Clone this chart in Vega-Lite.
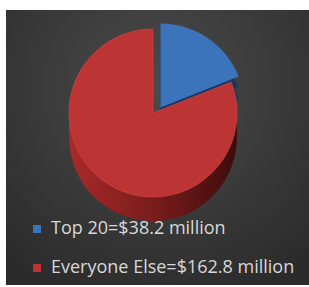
{
  "$schema": "https://vega.github.io/schema/vega-lite/v6.json",
  "width": 309,
  "height": 287,
  "autosize": {"type": "fit", "contains": "padding"},
  "padding": {"left": 6, "top": 10, "right": 0, "bottom": 2},
  "background": "white",
  "config": {"view": {"stroke": null}},
  "data": {"values": [
    {"label": "Top 20=$38.2 million", "value": 38.2, "order": 1},
    {"label": "Everyone Else=$162.8 million", "value": 162.8, "order": 2}
  ]},
  "transform": [
    {"stack": "value", "groupby": [], "as": ["t0", "t1"], "sort": [{"field": "order", "order": "ascending"}]}
  ],
  "layer": [
    {
      "transform": [{"filter": "datum.order == 1"}],
      "mark": {"type": "rect",
        "fill": {"gradient": "radial", "x1": 0.5, "y1": 0.3, "r1": 0, "x2": 0.5, "y2": 0.3, "r2": 0.75,
          "stops": [{"offset": 0, "color": "#4b4b4b"}, {"offset": 1, "color": "#2b2b2b"}]}},
      "encoding": {}
    },
    {
      "transform": [{"filter": "datum.order == 2"}],
      "mark": {"type": "arc", "radius": 84, "xOffset": -4.5, "yOffset": -10.5,
        "fill": {"gradient": "linear", "x1": 0, "y1": 0, "x2": 1, "y2": 0, "stops": [{"offset": 0, "color": "#a82a2a"}, {"offset": 0.5, "color": "#7a1c1c"}, {"offset": 1, "color": "#3e0c0c"}]}},
      "encoding": {
        "theta": {"field": "t0", "type": "quantitative", "scale": {"domain": [0, 201]}},
        "theta2": {"field": "t1"}
      }
    },
    {
      "transform": [{"filter": "datum.order == 2"}],
      "mark": {"type": "arc", "radius": 84, "xOffset": -4.5, "yOffset": -22.5,
        "fill": {"gradient": "linear", "x1": 0, "y1": 0, "x2": 1, "y2": 0, "stops": [{"offset": 0, "color": "#a82a2a"}, {"offset": 0.5, "color": "#7a1c1c"}, {"offset": 1, "color": "#3e0c0c"}]}},
      "encoding": {
        "theta": {"field": "t0", "type": "quantitative", "scale": {"domain": [0, 201]}},
        "theta2": {"field": "t1"}
      }
    },
    {
      "transform": [{"filter": "datum.order == 1"}],
      "mark": {"type": "arc", "radius": 84, "xOffset": 3, "yOffset": -18, "fill": "#1b3761"},
      "encoding": {
        "theta": {"field": "t0", "type": "quantitative", "scale": {"domain": [0, 201]}},
        "theta2": {"field": "t1"}
      }
    },
    {
      "transform": [{"filter": "datum.order == 1"}],
      "mark": {"type": "arc", "radius": 84, "xOffset": 3, "yOffset": -29, "fill": "#1b3761"},
      "encoding": {
        "theta": {"field": "t0", "type": "quantitative", "scale": {"domain": [0, 201]}},
        "theta2": {"field": "t1"}
      }
    },
    {
      "transform": [{"filter": "datum.order == 2"}],
      "mark": {"type": "arc", "radius": 84, "xOffset": -4.5, "yOffset": -34.5, "stroke": "#c94242", "strokeWidth": 0.8},
      "encoding": {
        "theta": {"field": "t0", "type": "quantitative", "scale": {"domain": [0, 201]}},
        "theta2": {"field": "t1"},
        "color": {"field": "label", "type": "nominal",
          "scale": {"domain": ["Top 20=$38.2 million", "Everyone Else=$162.8 million"], "range": ["#3b74bb", "#bd3434"]},
          "legend": {"title": null, "orient": "none", "legendX": 22, "legendY": 210,
            "symbolType": "square", "symbolSize": 64, "symbolStrokeWidth": 0,
            "labelFont": "Open Sans", "labelFontSize": 18, "labelColor": "#d8d8d8", "labelLimit": 300,
            "labelOffset": 5, "rowPadding": 21}}
      }
    },
    {
      "transform": [{"filter": "datum.order == 1"}],
      "mark": {"type": "arc", "radius": 84, "xOffset": 3, "yOffset": -40},
      "encoding": {
        "theta": {"field": "t0", "type": "quantitative", "scale": {"domain": [0, 201]}},
        "theta2": {"field": "t1"},
        "color": {"field": "label", "type": "nominal"}
      }
    }
  ]
}
